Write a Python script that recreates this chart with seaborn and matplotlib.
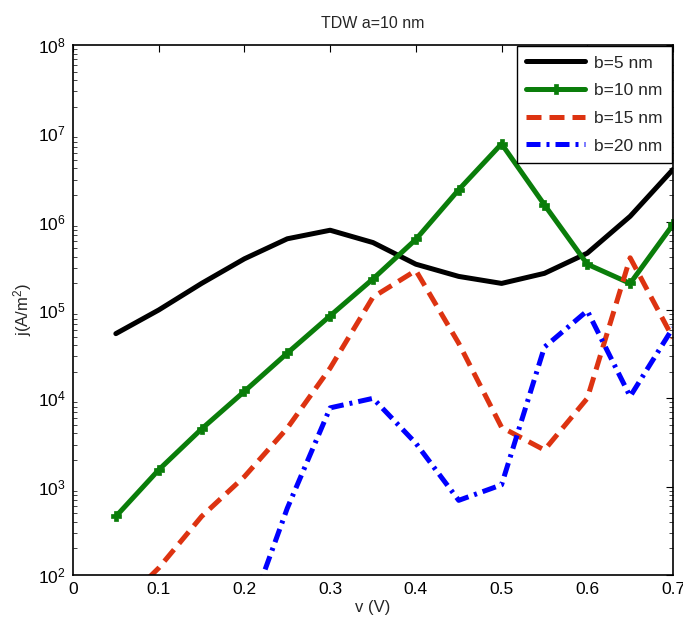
import numpy as np
import pandas as pd
import matplotlib
matplotlib.use("Agg")
import matplotlib.pyplot as plt
import seaborn as sns
from matplotlib.ticker import LogLocator, NullFormatter

sns.set_theme(style="white")
plt.rcParams['font.family'] = ['Liberation Sans', 'DejaVu Sans']
plt.rcParams['mathtext.fontset'] = 'custom'
plt.rcParams['mathtext.rm'] = 'Liberation Sans'
plt.rcParams['mathtext.it'] = 'Liberation Sans'

title = "TDW a=10 nm"
xlabel = "v (V)"
ylabel = "j(A/m$^2$)"

v5 = [0.05, 0.1, 0.15, 0.2, 0.25, 0.3, 0.35, 0.4, 0.45, 0.5, 0.55, 0.6, 0.65, 0.7]
j5 = [5.4e4, 1.0e5, 2.0e5, 3.8e5, 6.4e5, 8.0e5, 5.8e5, 3.3e5, 2.4e5, 2.0e5, 2.6e5, 4.4e5, 1.15e6, 3.9e6]

v10 = [0.05, 0.1, 0.15, 0.2, 0.25, 0.3, 0.35, 0.4, 0.45, 0.5, 0.55, 0.6, 0.65, 0.7]
j10 = [4.6e2, 1.55e3, 4.5e3, 1.2e4, 3.25e4, 8.6e4, 2.25e5, 6.3e5, 2.3e6, 7.6e6, 1.55e6, 3.3e5, 2.0e5, 9.3e5]

v15 = [0.05, 0.1, 0.15, 0.2, 0.25, 0.3, 0.35, 0.4, 0.45, 0.5, 0.55, 0.6, 0.65, 0.7]
j15 = [4.0e1, 1.2e2, 4.6e2, 1.3e3, 4.6e3, 2.2e4, 1.4e5, 2.8e5, 4.2e4, 4.7e3, 2.6e3, 1.0e4, 3.9e5, 4.8e4]

v20 = [0.2, 0.25, 0.3, 0.35, 0.4, 0.45, 0.5, 0.55, 0.6, 0.65, 0.7]
j20 = [2.6e1, 5.7e2, 7.8e3, 1.0e4, 3.1e3, 7.0e2, 1.05e3, 3.8e4, 9.8e4, 1.05e4, 6.3e4]

labels = ["b=5 nm", "b=10 nm", "b=15 nm", "b=20 nm"]
colors = ["#000000", "#0a7d0a", "#dd3311", "#0000ff"]

fig = plt.figure(figsize=(6.83, 6.23), dpi=100)
ax = fig.add_axes([73/683, 48/623, 600/683, 530/623])

series = [(v5, j5), (v10, j10), (v15, j15), (v20, j20)]
styles = [
    dict(linestyle='-'),
    dict(linestyle='-', marker='P', markersize=7.5, markeredgewidth=0.5),
    dict(linestyle=(0, (3.0, 1.6))),
    dict(linestyle=(0, (2.8, 1.2, 0.6, 1.2))),
]
for (xv, yv), lab, col, st in zip(series, labels, colors, styles):
    df = pd.DataFrame({"v": xv, "j": yv})
    sns.lineplot(data=df, x="v", y="j", ax=ax, color=col, lw=3.6, label=lab,
                 markeredgecolor=col, **st)

ax.set_yscale('log')
ax.set_xlim(0, 0.7)
ax.set_ylim(1e2, 1e8)
ax.set_xticks([0, 0.1, 0.2, 0.3, 0.4, 0.5, 0.6, 0.7])
ax.set_xticklabels(["0", "0.1", "0.2", "0.3", "0.4", "0.5", "0.6", "0.7"])
ax.yaxis.set_major_locator(LogLocator(base=10, numticks=10))
ax.yaxis.set_minor_locator(LogLocator(base=10, subs=np.arange(2, 10), numticks=10))
ax.yaxis.set_minor_formatter(NullFormatter())
ax.tick_params(axis='both', which='major', direction='in', length=5, width=0.8,
               top=True, right=True, labelsize=12.5, colors='black', pad=5)
ax.tick_params(axis='y', which='minor', direction='in', length=3, width=0.6,
               left=True, right=True)
for s in ax.spines.values():
    s.set_color('black')
    s.set_linewidth(1.2)

ax.set_xlabel(xlabel, fontsize=12, labelpad=2)
ax.set_ylabel(ylabel, fontsize=12, labelpad=3)
ax.set_title(title, fontsize=11.5, pad=12)

leg = ax.legend(loc='upper right', fontsize=12.5, frameon=True, fancybox=False,
                edgecolor='black', framealpha=1, borderaxespad=0.05,
                handlelength=3.4, labelspacing=0.72, borderpad=0.55,
                handletextpad=0.5)
leg.get_frame().set_linewidth(1.0)

fig.savefig("out.png", dpi=100)
